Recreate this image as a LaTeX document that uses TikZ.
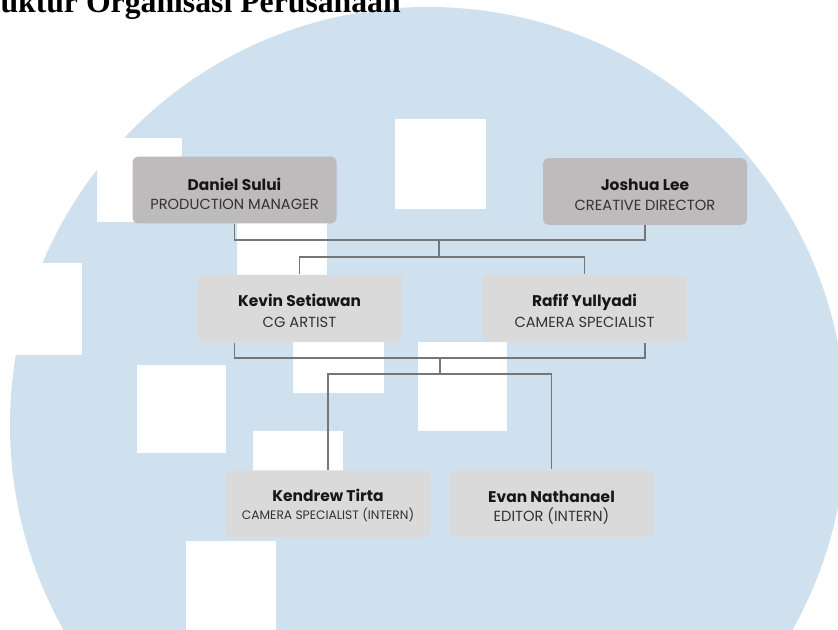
\documentclass[tikz,border=0pt]{standalone}
\usepackage{fontspec}
\setmainfont{Poppins}
\newfontfamily\titlefont{Liberation Serif}
\definecolor{wmblue}{RGB}{207,224,239}
\definecolor{bossgray}{RGB}{189,187,188}
\definecolor{staffgray}{RGB}{218,218,218}
\definecolor{linkgray}{RGB}{118,118,118}
\definecolor{nameink}{RGB}{22,22,22}
\definecolor{roleink}{RGB}{50,50,50}

\tikzset{every picture/.style={line width=0.75pt}}
\tikzset{
  bossbox/.style={rounded corners=4pt,fill=bossgray,minimum width=153pt,minimum height=50pt,inner sep=0pt},
  staffbox/.style={rounded corners=4pt,fill=staffgray,minimum width=153.5pt,minimum height=50.5pt,inner sep=0pt},
  nm/.style={anchor=base,inner sep=0pt,color=nameink,font=\fontsize{11.6}{13}\selectfont\bfseries},
  rl/.style={anchor=base,inner sep=0pt,color=roleink,font=\fontsize{11}{13}\selectfont},
  link/.style={draw=linkgray,line width=0.8pt},
  wmblock/.style={fill=white}
}

\begin{document}
\begin{tikzpicture}[x=0.75pt,y=0.75pt,yscale=-1,xscale=1]
\useasboundingbox (0,0) rectangle (838,630);

%Shape: Circle (watermark)
\fill[wmblue] (428,425) circle (418);

%Shape: Rectangles (watermark blocks)
\fill[wmblock] (0,263) rectangle (82,355);
\fill[wmblock] (97,138) rectangle (182,222);
\fill[wmblock] (237,195) rectangle (327,285);
\fill[wmblock] (395,119) rectangle (486,209);
\fill[wmblock] (293,303) rectangle (384,393);
\fill[wmblock] (418,342) rectangle (507,431);
\fill[wmblock] (137,365) rectangle (226,453);
\fill[wmblock] (253,431) rectangle (343,521);
\fill[wmblock] (186,541) rectangle (276,635);

% Text Node
\node[anchor=base west,inner sep=0pt,font=\titlefont\fontsize{23.8}{26}\selectfont\bfseries] (title) at (0,13) {uktur Organisasi Perusahaan};

%Shape: Boxes
\node[bossbox] (daniel) at (234.5,190) {};
\node[bossbox] (joshua) at (645,191.5) {};
\node[staffbox] (kevin) at (299.5,308.5) {};
\node[staffbox] (rafif) at (584.5,308.5) {};
\node[staffbox] (kendrew) at (328,504) {};
\node[staffbox] (evan) at (551.5,503.5) {};

% Text Node
\node[nm] (danielname) at (234.5,190.7) {Daniel Sului};
\node[rl] (danielrole) at (234.5,209.5) {PRODUCTION MANAGER};
\node[nm] (joshuaname) at (645,190.7) {Joshua Lee};
\node[rl] (joshuarole) at (645,210.5) {CREATIVE DIRECTOR};
\node[nm] (kevinname) at (299.5,306.7) {Kevin Setiawan};
\node[rl] (kevinrole) at (299.5,327.3) {CG ARTIST};
\node[nm] (rafifname) at (584.5,306.7) {Rafif Yullyadi};
\node[rl] (rafifrole) at (584.5,327.3) {CAMERA SPECIALIST};
\node[nm] (kendrewname) at (328,501.7) {Kendrew Tirta};
\node[rl,font=\fontsize{9.2}{11}\selectfont] (kendrewrole) at (328,519) {CAMERA SPECIALIST (INTERN)};
\node[nm] (evanname) at (551.5,502.7) {Evan Nathanael};
\node[rl] (evanrole) at (551.5,521.7) {EDITOR (INTERN)};

%Straight Lines
\coordinate (busA) at (439,240);
\coordinate (busB) at (439,257);
\coordinate (busC) at (440,358);
\coordinate (busD) at (440,374);
\draw[link] (daniel.south) |- (busA) -| (joshua.south);
\draw[link] (busA) -- (busB);
\draw[link] (kevin.north) |- (busB) -| (rafif.north);
\draw[link] (daniel.south |- kevin.south) |- (busC) -| (joshua.south |- rafif.south);
\draw[link] (busC) -- (busD);
\draw[link] (kendrew.north) |- (busD) -| (evan.north);

\end{tikzpicture}
\end{document}
